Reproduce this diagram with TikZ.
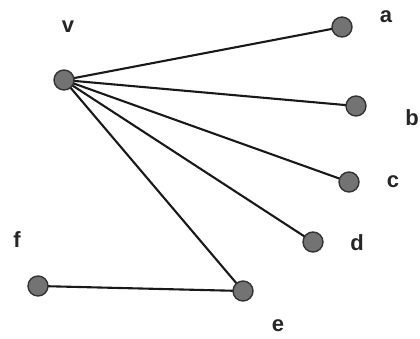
\documentclass[tikz,border=0pt]{standalone}
\usepackage{fontspec}
\setmainfont{Liberation Sans}
\begin{document}
\begin{tikzpicture}[x=1pt,y=-1pt,
  vtx/.style={circle,draw=black!80,line width=1.4pt,fill=black!55,inner sep=0pt,minimum size=20pt},
  lbl/.style={font=\fontsize{22}{26}\selectfont\bfseries,text=black!85},
  edge/.style={line width=2.1pt,black!90}]
\useasboundingbox (0,0) rectangle (420,339);
\draw[edge] (64,80) coordinate (cv) -- (342,27) coordinate (ca);
\draw[edge] (cv) -- (356,106) coordinate (cb);
\draw[edge] (cv) -- (349,182) coordinate (cc);
\draw[edge] (cv) -- (313,242) coordinate (cd);
\draw[edge] (cv) -- (243,291) coordinate (ce);
\draw[edge] (38,286) coordinate (cf) -- (ce);
\node[vtx] (v) at (cv) {};
\node[vtx] (a) at (ca) {};
\node[vtx] (b) at (cb) {};
\node[vtx] (c) at (cc) {};
\node[vtx] (d) at (cd) {};
\node[vtx] (e) at (ce) {};
\node[vtx] (f) at (cf) {};
\node[lbl] (lv) at (68,27) {v};
\node[lbl] (la) at (386,17) {a};
\node[lbl] (lb) at (412,118) {b};
\node[lbl] (lc) at (393,182) {c};
\node[lbl] (ld) at (357,243) {d};
\node[lbl] (le) at (278,326) {e};
\node[lbl] (lf) at (17,240) {f};
\end{tikzpicture}
\end{document}
